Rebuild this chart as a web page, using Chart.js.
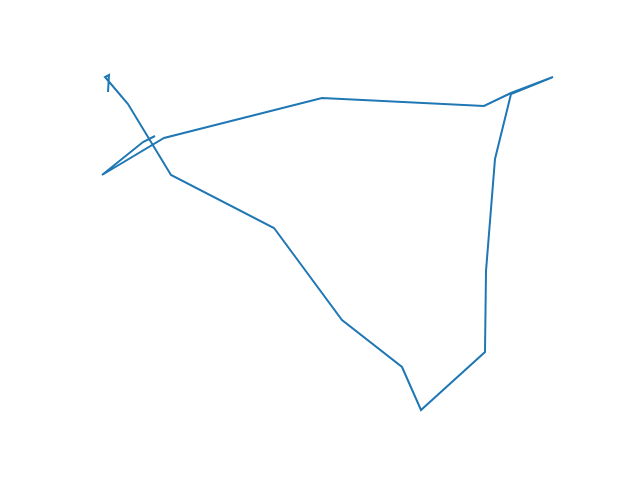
<!DOCTYPE html>
<html lang="en">
<head>
    <meta charset="UTF-8">
    <title>Line path</title>
    <script src="https://cdn.jsdelivr.net/npm/chart.js"></script>
    <style>
        body {
            margin: 0;
            background-color: #ffffff;
        }
        #chart {
            display: block;
        }
    </style>
</head>
<body>
    <canvas id="chart" width="640" height="480"></canvas>
    <script>
        // path vertices (x right, y up)
        const xValues = [155, 143, 102, 164, 322, 484, 511, 553, 511, 495, 486, 485, 421, 402, 342, 274, 171, 128, 105, 109, 108];
        const yValues = [345, 339, 306, 343, 383, 375, 388, 404, 387, 322, 210, 129, 71, 114, 161, 253, 306, 377, 404, 406, 389];

        const points = xValues.map((x, i) => ({ x: x, y: yValues[i] }));

        new Chart(document.getElementById('chart').getContext('2d'), {
            type: 'scatter',
            data: {
                datasets: [{
                    data: points,
                    showLine: true,
                    borderColor: '#1f77b4',
                    borderWidth: 2,
                    pointRadius: 0,
                    tension: 0,
                    fill: false
                }]
            },
            options: {
                responsive: false,
                animation: false,
                layout: {
                    padding: { left: 80, right: 64, top: 59, bottom: 52 }
                },
                plugins: {
                    legend: { display: false },
                    tooltip: { enabled: false }
                },
                scales: {
                    x: { type: 'linear', min: 80, max: 576, display: false },
                    y: { type: 'linear', min: 53, max: 422, display: false }
                }
            }
        });
    </script>
</body>
</html>
